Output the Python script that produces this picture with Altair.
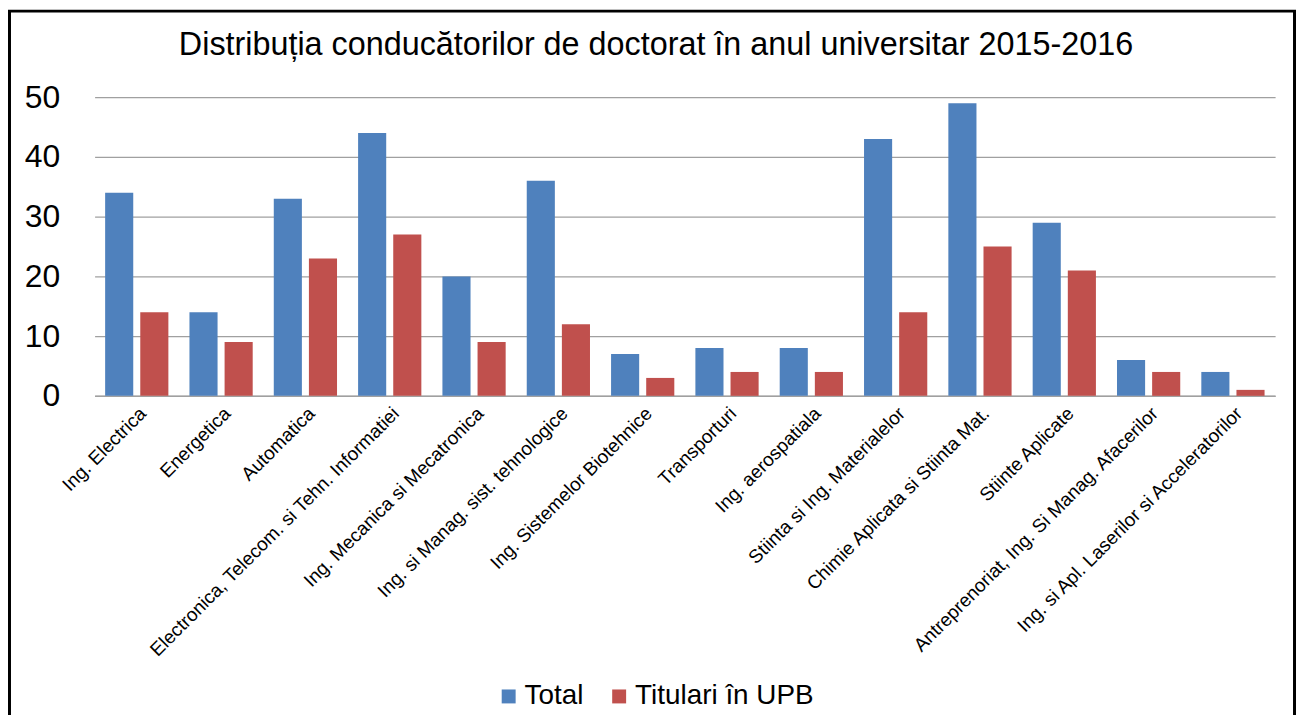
import altair as alt
import pandas as pd

categories = [
    "Ing. Electrica",
    "Energetica",
    "Automatica",
    "Electronica, Telecom. si Tehn. Informatiei",
    "Ing. Mecanica si Mecatronica",
    "Ing. si Manag. sist. tehnologice",
    "Ing. Sistemelor Biotehnice",
    "Transporturi",
    "Ing. aerospatiala",
    "Stiinta si Ing. Materialelor",
    "Chimie Aplicata si Stiinta Mat.",
    "Stiinte Aplicate",
    "Antreprenoriat, Ing. Si Manag. Afacerilor",
    "Ing. si Apl. Laserilor si Acceleratorilor",
]
total = [34, 14, 33, 44, 20, 36, 7, 8, 8, 43, 49, 29, 6, 4]
titulari = [14, 9, 23, 27, 9, 12, 3, 4, 4, 14, 25, 21, 4, 1]
series_names = ["Total", "Titulari în UPB"]
series_colors = ["#4F81BD", "#C0504D"]

rows = []
for c, t, u in zip(categories, total, titulari):
    rows.append({"cat": c, "serie": series_names[0], "val": t})
    rows.append({"cat": c, "serie": series_names[1], "val": u})
df = pd.DataFrame(rows)

FONT = "Liberation Sans"

bars = alt.Chart(df).mark_bar().encode(
    x=alt.X("cat:N", sort=categories,
            scale=alt.Scale(paddingInner=0.25, paddingOuter=0.125),
            axis=alt.Axis(title=None, labelAngle=-45, labelFontSize=19, labelFont=FONT,
                          labelColor="#000000", ticks=False, labelPadding=8,
                          domainColor="#A0A0A0", domainWidth=1.5, labelLimit=600)),
    xOffset=alt.XOffset("serie:N", sort=series_names,
                        scale=alt.Scale(paddingInner=0.2, paddingOuter=0)),
    y=alt.Y("val:Q", scale=alt.Scale(domain=[0, 50], nice=False),
            axis=alt.Axis(title=None, values=[0, 10, 20, 30, 40, 50], labelFontSize=32,
                          labelFont=FONT, labelColor="#000000", ticks=False, domain=False,
                          labelPadding=35, gridColor="#A0A0A0", gridWidth=1.3)),
    color=alt.Color("serie:N", sort=series_names,
                    scale=alt.Scale(domain=series_names, range=series_colors),
                    legend=alt.Legend(title=None, orient="none", direction="horizontal",
                                      legendX=402, legendY=588,
                                      symbolType="square", symbolSize=196,
                                      symbolStrokeWidth=0, labelFontSize=28, labelFont=FONT,
                                      labelColor="#000000", columnPadding=21, labelOffset=2,
                                      labelLimit=400)),
)

frame = alt.Chart(pd.DataFrame({"k": [0]})).mark_rect(
    filled=False, stroke="#000000", strokeWidth=3
).encode(
    x=alt.value(-85.5), x2=alt.value(1205.5), y=alt.value(-86.5), y2=alt.value(700)
)

chart = alt.layer(bars, frame).properties(
    width=1186,
    height=300,
    padding={"left": 87, "top": 88, "right": 22, "bottom": 319},
    autosize=alt.AutoSizeParams(type="none"),
    background="#FFFFFF",
    title=alt.TitleParams(
        "Distribuția conducătorilor de doctorat în anul universitar 2015-2016",
        font=FONT, fontSize=32.5, fontWeight="normal", color="#000000",
        anchor="middle", dx=-29, dy=56,
    ),
).configure_view(stroke=None)

chart.save("out.html", embed_options={"renderer": "svg", "actions": False})
